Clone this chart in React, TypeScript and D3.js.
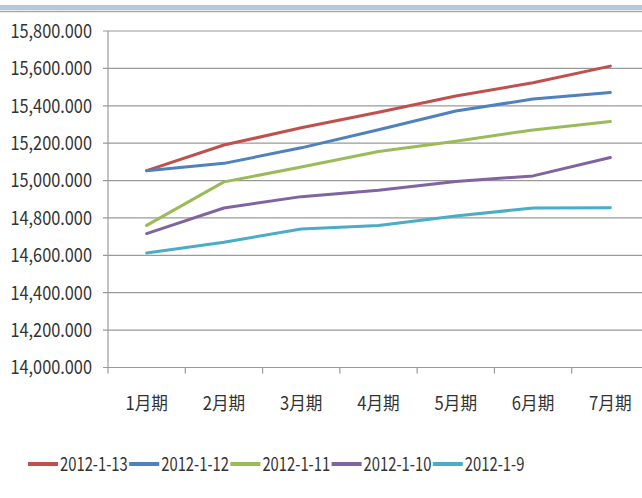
import { useEffect, useRef } from 'react';
import * as d3 from 'd3';

const categories = ['1月期', '2月期', '3月期', '4月期', '5月期', '6月期', '7月期'];
const seriesNames = ['2012-1-13', '2012-1-12', '2012-1-11', '2012-1-10', '2012-1-9'];
const s20120113 = [15053, 15190, 15282, 15365, 15452, 15523, 15612];
const s20120112 = [15053, 15092, 15175, 15272, 15372, 15436, 15471];
const s20120111 = [14760, 14993, 15072, 15155, 15210, 15271, 15316];
const s20120110 = [14716, 14853, 14914, 14948, 14995, 15025, 15123];
const s2012019 = [14612, 14670, 14741, 14760, 14811, 14853, 14855];
const yTicks = [14000, 14200, 14400, 14600, 14800, 15000, 15200, 15400, 15600, 15800];
const colors = ['#C0504D', '#4F81BD', '#9BBB59', '#8064A2', '#4BACC6'];

export default function App() {
  const svgRef = useRef<SVGSVGElement>(null);

  useEffect(() => {
    if (!svgRef.current) return;
    const svg = d3.select(svgRef.current);
    svg.selectAll('*').remove();

    const width = 642;
    const font = '"Noto Sans CJK SC", "Noto Sans", sans-serif';
    const textColor = '#333333';
    const allSeries = [s20120113, s20120112, s20120111, s20120110, s2012019];

    // top banner
    svg.append('rect').attr('x', 0).attr('y', 5).attr('width', width).attr('height', 5).attr('fill', '#B4C8DC');
    svg.append('line').attr('x1', 0).attr('x2', width).attr('y1', 11.5).attr('y2', 11.5)
      .attr('stroke', '#A6A6A6').attr('stroke-width', 1.5);

    const x = d3.scaleBand().domain(categories).range([108, 649]);
    const y = d3.scaleLinear().domain([14000, 15800]).range([367.5, 31]);

    // gridlines
    svg.append('g')
      .selectAll('line')
      .data(yTicks)
      .enter()
      .append('line')
      .attr('x1', 103)
      .attr('x2', width)
      .attr('y1', d => y(d))
      .attr('y2', d => y(d))
      .attr('stroke', '#9A9A9A')
      .attr('stroke-width', 1.2);

    // y axis line
    svg.append('line').attr('x1', 108).attr('x2', 108).attr('y1', y(15800)).attr('y2', y(14000))
      .attr('stroke', '#9A9A9A').attr('stroke-width', 1.2);

    // x ticks
    svg.append('g')
      .selectAll('line')
      .data(categories)
      .enter()
      .append('line')
      .attr('x1', d => x(d)!)
      .attr('x2', d => x(d)!)
      .attr('y1', y(14000))
      .attr('y2', y(14000) + 6)
      .attr('stroke', '#9A9A9A')
      .attr('stroke-width', 1.2);

    // y labels (narrow, tall glyphs like the original)
    svg.append('g')
      .selectAll('text')
      .data(yTicks)
      .enter()
      .append('text')
      .attr('transform', d => `translate(92, ${y(d)}) scale(0.86, 1)`)
      .attr('dy', '0.36em')
      .attr('text-anchor', 'end')
      .attr('font-family', font)
      .attr('font-size', 19)
      .attr('fill', textColor)
      .text(d => d3.format(',.3f')(d));

    // x labels
    svg.append('g')
      .selectAll('text')
      .data(categories)
      .enter()
      .append('text')
      .attr('transform', d => `translate(${x(d)! + x.bandwidth() / 2}, 410) scale(0.9, 1)`)
      .attr('text-anchor', 'middle')
      .attr('font-family', font)
      .attr('font-size', 18.5)
      .attr('fill', textColor)
      .text(d => d);

    const line = d3.line<number>()
      .x((d, i) => x(categories[i])! + x.bandwidth() / 2)
      .y(d => y(d));

    allSeries.forEach((s, i) => {
      svg.append('path')
        .datum(s)
        .attr('fill', 'none')
        .attr('stroke', colors[i])
        .attr('stroke-width', 3)
        .attr('stroke-linejoin', 'round')
        .attr('stroke-linecap', 'round')
        .attr('d', line);
    });

    // legend
    const legend = svg.append('g').attr('transform', 'translate(28, 464)');
    seriesNames.forEach((name, i) => {
      const g = legend.append('g').attr('transform', `translate(${i * 101.2}, 0)`);
      g.append('line')
        .attr('x1', 0)
        .attr('x2', 30)
        .attr('y1', 0)
        .attr('y2', 0)
        .attr('stroke', colors[i])
        .attr('stroke-width', 4);
      g.append('text')
        .attr('transform', 'translate(32, 0) scale(0.8, 1)')
        .attr('dy', '0.36em')
        .attr('font-family', font)
        .attr('font-size', 18.5)
        .attr('fill', textColor)
        .text(name);
    });
  }, []);

  return (
    <div style={{ position: 'fixed', left: 0, top: 0, width: 642, height: 498, background: '#fff' }}>
      <svg ref={svgRef} width={642} height={498} style={{ display: 'block' }} />
    </div>
  );
}
